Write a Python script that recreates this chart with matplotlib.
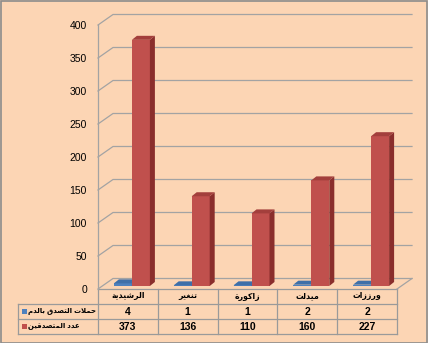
import matplotlib
matplotlib.use('Agg')
import matplotlib.pyplot as plt
from matplotlib.patches import Polygon, Rectangle

categories = ['الرشيدية', 'تنغير', 'زاكورة', 'ميدلت', 'ورززات']
campaigns = [4, 1, 1, 2, 2]
donors = [373, 136, 110, 160, 227]
series_names = ['حملات التصدق بالدم', 'عدد المتصدقين']
yticks = [0, 50, 100, 150, 200, 250, 300, 350, 400]

plt.rcParams['font.family'] = ['Liberation Sans', 'DejaVu Sans']

# matplotlib has no arabic shaping, so pick the presentation forms by hand
# (isolated, final, initial, medial)
FORMS = {
    'ا': (0xFE8D, 0xFE8E), 'ب': (0xFE8F, 0xFE90, 0xFE91, 0xFE92),
    'ة': (0xFE93, 0xFE94), 'ت': (0xFE95, 0xFE96, 0xFE97, 0xFE98),
    'ح': (0xFEA1, 0xFEA2, 0xFEA3, 0xFEA4), 'د': (0xFEA9, 0xFEAA),
    'ر': (0xFEAD, 0xFEAE), 'ز': (0xFEAF, 0xFEB0),
    'ش': (0xFEB5, 0xFEB6, 0xFEB7, 0xFEB8), 'ص': (0xFEB9, 0xFEBA, 0xFEBB, 0xFEBC),
    'ع': (0xFEC9, 0xFECA, 0xFECB, 0xFECC), 'غ': (0xFECD, 0xFECE, 0xFECF, 0xFED0),
    'ق': (0xFED5, 0xFED6, 0xFED7, 0xFED8), 'ك': (0xFED9, 0xFEDA, 0xFEDB, 0xFEDC),
    'ل': (0xFEDD, 0xFEDE, 0xFEDF, 0xFEE0), 'م': (0xFEE1, 0xFEE2, 0xFEE3, 0xFEE4),
    'ن': (0xFEE5, 0xFEE6, 0xFEE7, 0xFEE8), 'و': (0xFEED, 0xFEEE),
    'ي': (0xFEF1, 0xFEF2, 0xFEF3, 0xFEF4), 'لا': (0xFEFB, 0xFEFC),
}


def shape(text):
    letters = []
    i = 0
    while i < len(text):
        if text[i:i + 2] == 'لا':
            letters.append('لا')
            i += 2
        else:
            letters.append(text[i])
            i += 1
    out = []
    for k, c in enumerate(letters):
        if c not in FORMS:
            out.append(c)
            continue
        f = FORMS[c]
        prev = letters[k - 1] if k > 0 else None
        nxt = letters[k + 1] if k + 1 < len(letters) else None
        jp = prev in FORMS and len(FORMS[prev]) == 4
        jn = nxt in FORMS and len(f) == 4
        if jp and jn:
            cp = f[3]
        elif jp:
            cp = f[1]
        elif jn:
            cp = f[2]
        else:
            cp = f[0]
        out.append(chr(cp))
    return ''.join(reversed(out))


W, H = 428, 343
bg = '#FCD5B4'
grid = '#A3A3A3'
fig = plt.figure(figsize=(W / 100, H / 100), dpi=100, facecolor=bg)

# overlay in pixel coords for the data table and the frame
ax_t = fig.add_axes([0, 0, 1, 1])
ax_t.set_xlim(0, W)
ax_t.set_ylim(H, 0)
ax_t.axis('off')

x0, x1, ytop, ybot = 98, 397, 25, 289
ax = fig.add_axes([x0 / W, 1 - ybot / H, (x1 - x0) / W, (ybot - ytop) / H])
ax.set_xlim(0, len(categories))
ax.set_ylim(0, 400)
ax.patch.set_alpha(0)
for s in ax.spines.values():
    s.set_visible(False)
ax.set_xticks([])
ax.set_yticks(yticks)
ax.tick_params(axis='y', length=0, pad=8, labelsize=7.5)

px_x = (x1 - x0) / len(categories)
px_y = (ybot - ytop) / 400
dx, dy = 15 / px_x, 10.5 / px_y
n = len(categories)

for v in yticks:
    ax.plot([0, dx, n + dx], [v, v + dy, v + dy], color=grid, lw=0.9, clip_on=False, zorder=1)
ax.plot([0, 0], [0, 400], color=grid, lw=0.9, clip_on=False, zorder=1)
ax.plot([n, n + dx], [0, dy], color=grid, lw=0.9, clip_on=False, zorder=1)

fx, fy = 4 / px_x, 3 / px_y
bx, by = 9 / px_x, 7 / px_y
bw = 18 / px_x


def bar3d(left, v, front, side, top, z):
    ax.bar(left + fx, v, width=bw, bottom=fy, align='edge', color=front, lw=0, zorder=z)
    r = left + bw
    ax.add_patch(Polygon([(r + fx, fy), (r + bx, by), (r + bx, v + by), (r + fx, v + fy)],
                         closed=True, facecolor=side, lw=0, zorder=z))
    ax.add_patch(Polygon([(left + fx, v + fy), (r + fx, v + fy), (r + bx, v + by), (left + bx, v + by)],
                         closed=True, facecolor=top, lw=0, zorder=z))


for i in range(n):
    c = i + 0.5
    bar3d(c - bw, campaigns[i], '#4F81BD', '#2F5D8F', '#3F6FA8', 3 + 2 * i)
    bar3d(c, donors[i], '#C0504D', '#8A2E2C', '#A33F3C', 4 + 2 * i)

# data table
col_edges = [x0 + k * px_x for k in range(n + 1)]
rows = [289, 304, 319, 334]
lab_x = 18
tc = '#9A9A9A'
ax_t.plot([x0, x1], [rows[0], rows[0]], color=tc, lw=0.9)
for y in rows[1:]:
    ax_t.plot([lab_x, x1], [y, y], color=tc, lw=0.9)
ax_t.plot([lab_x, lab_x], [rows[1], rows[3]], color=tc, lw=0.9)
for xe in col_edges:
    ax_t.plot([xe, xe], [rows[0], rows[3]], color=tc, lw=0.9)

for i in range(n):
    xc = (col_edges[i] + col_edges[i + 1]) / 2
    ax_t.text(xc, (rows[0] + rows[1]) / 2, shape(categories[i]), ha='center', va='center',
              fontsize=5.6, fontweight='bold')
    ax_t.text(xc, (rows[1] + rows[2]) / 2 + 0.5, str(campaigns[i]), ha='center', va='center',
              fontsize=7.5, fontweight='bold')
    ax_t.text(xc, (rows[2] + rows[3]) / 2 + 0.5, str(donors[i]), ha='center', va='center',
              fontsize=7.5, fontweight='bold')

for k, (name, col) in enumerate(zip(series_names, ['#4F81BD', '#C0504D'])):
    yc = (rows[k + 1] + rows[k + 2]) / 2
    ax_t.add_patch(Rectangle((22, yc - 2.5), 5, 5, facecolor=col, lw=0))
    ax_t.text(28, yc - 1, shape(name), ha='left', va='center', fontsize=5, fontweight='bold')

ax_t.add_patch(Rectangle((0.5, 0.5), W - 1, H - 1, fill=False, edgecolor='#8C8C8C', lw=1.2))

fig.savefig('out.png', dpi=100, facecolor=bg)
